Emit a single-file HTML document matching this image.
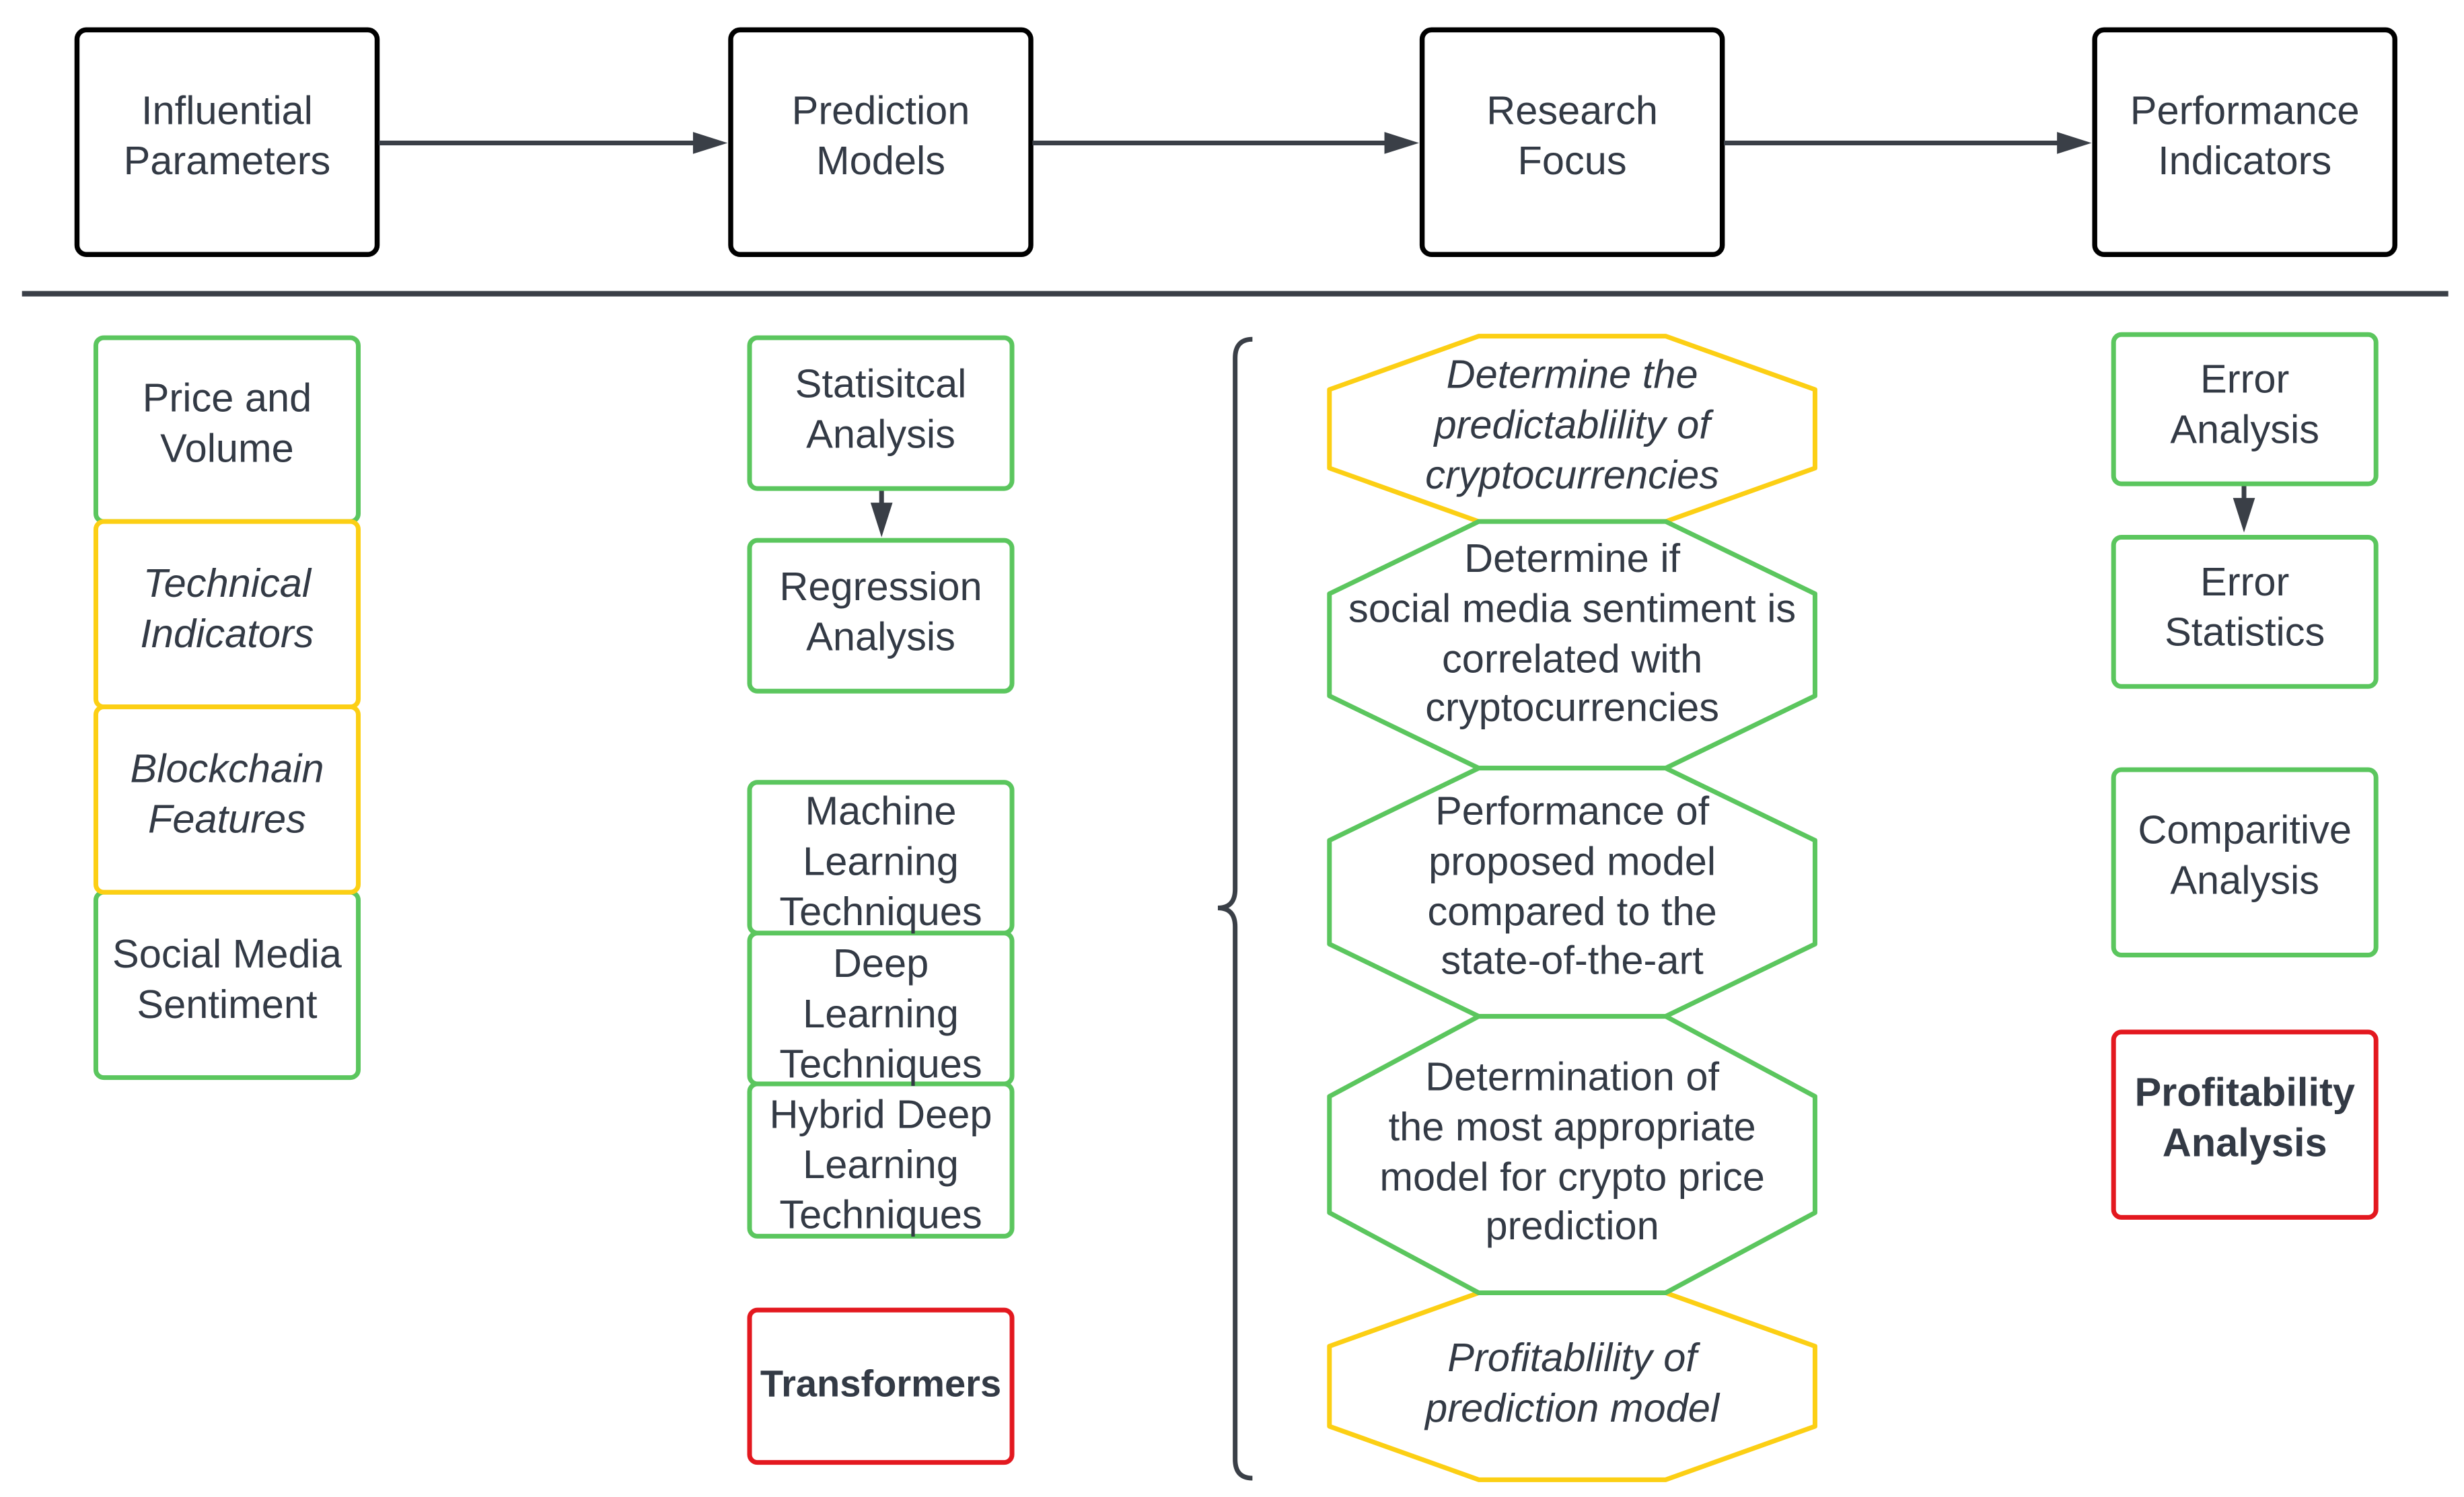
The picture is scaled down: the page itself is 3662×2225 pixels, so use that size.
<!DOCTYPE html>
<html><head><meta charset="utf-8">
<style>
html,body{margin:0;padding:0;background:#fff;}
svg{display:block;}
text{font-family:"Liberation Sans",Arial,sans-serif;font-size:25.5px;fill:#333a45;text-anchor:middle;}
.i{font-style:italic;}
.b{font-weight:bold;}
</style></head><body>
<svg width="3662" height="2225" viewBox="0 0 1568 953" preserveAspectRatio="none" xmlns="http://www.w3.org/2000/svg">
<rect width="1568" height="953" fill="#fff"/>
<g fill="#fff" stroke="#000" stroke-width="3.2">
<rect x="49" y="19" width="191" height="143" rx="6"/>
<rect x="465" y="19" width="191" height="143" rx="6"/>
<rect x="905" y="19" width="191" height="143" rx="6"/>
<rect x="1333" y="19" width="191" height="143" rx="6"/>
</g>
<g stroke="#3a3f47" stroke-width="3" fill="none">
<line x1="241" y1="91" x2="444" y2="91"/>
<line x1="657" y1="91" x2="884" y2="91"/>
<line x1="1097" y1="91" x2="1312" y2="91"/>
<line x1="14" y1="187" x2="1558" y2="187" stroke-width="3.5"/>
<line x1="561" y1="312" x2="561" y2="325"/>
<line x1="1428" y1="309" x2="1428" y2="322"/>
</g>
<g fill="#3a3f47">
<path d="M441,84 L463,91 L441,98 z"/>
<path d="M881,84 L903,91 L881,98 z"/>
<path d="M1309,84 L1331,91 L1309,98 z"/>
<path d="M554,320 L568,320 L561,342 z"/>
<path d="M1421,317 L1435,317 L1428,339 z"/>
</g>
<text x="144.5" y="79">Influential</text><text x="144.5" y="111">Parameters</text>
<text x="560.5" y="79">Prediction</text><text x="560.5" y="111">Models</text>
<text x="1000.5" y="79">Research</text><text x="1000.5" y="111">Focus</text>
<text x="1428.5" y="79">Performance</text><text x="1428.5" y="111">Indicators</text>

<g fill="#fff" stroke-width="3">
<rect x="61" y="215" width="167" height="117" rx="5" stroke="#5bc65e"/>
<rect x="61" y="568" width="167" height="118" rx="5" stroke="#5bc65e"/>
<rect x="61" y="332" width="167" height="118" rx="5" stroke="#fccf14"/>
<rect x="61" y="450" width="167" height="118" rx="5" stroke="#fccf14"/>
</g>
<text x="144.5" y="262">Price and</text><text x="144.5" y="294">Volume</text>
<text class="i" x="144.5" y="380">Technical</text><text class="i" x="144.5" y="412">Indicators</text>
<text class="i" x="144.5" y="498">Blockchain</text><text class="i" x="144.5" y="530">Features</text>
<text x="144.5" y="616">Social Media</text><text x="144.5" y="648">Sentiment</text>

<g fill="#fff" stroke-width="3">
<rect x="477" y="215" width="167" height="96" rx="5" stroke="#5bc65e"/>
<rect x="477" y="344" width="167" height="96" rx="5" stroke="#5bc65e"/>
<rect x="477" y="498" width="167" height="96" rx="5" stroke="#5bc65e"/>
<rect x="477" y="594" width="167" height="96" rx="5" stroke="#5bc65e"/>
<rect x="477" y="690" width="167" height="97" rx="5" stroke="#5bc65e"/>
<rect x="477" y="834" width="167" height="97" rx="5" stroke="#e3181f"/>
</g>
<text x="560.5" y="253">Statisitcal</text><text x="560.5" y="285">Analysis</text>
<text x="560.5" y="382">Regression</text><text x="560.5" y="414">Analysis</text>
<text x="560.5" y="525">Machine</text><text x="560.5" y="557">Learning</text><text x="560.5" y="589">Techniques</text>
<text x="560.5" y="622">Deep</text><text x="560.5" y="654">Learning</text><text x="560.5" y="686">Techniques</text>
<text x="560.5" y="718">Hybrid Deep</text><text x="560.5" y="750">Learning</text><text x="560.5" y="782">Techniques</text>
<text class="b" x="560.5" y="889" style="font-size:24px">Transformers</text>

<path d="M797,216 Q786,216 786,228 L786,566 Q786,578 775,578 Q786,578 786,590 L786,929 Q786,941 797,941" fill="none" stroke="#3a3f47" stroke-width="3"/>

<g fill="#fff" stroke-width="3" stroke-linejoin="round">
<polygon stroke="#fccf14" points="941,214 1060,214 1155,248 1155,298 1060,332 941,332 846,298 846,248"/>
<polygon stroke="#fccf14" points="941,823 1060,823 1155,857 1155,908 1060,942 941,942 846,908 846,857"/>
<polygon stroke="#5bc65e" points="941,332 1060,332 1155,378 1155,443 1060,489 941,489 846,443 846,378"/>
<polygon stroke="#5bc65e" points="941,489 1060,489 1155,535 1155,601 1060,647 941,647 846,601 846,535"/>
<polygon stroke="#5bc65e" points="941,647 1060,647 1155,698 1155,772 1060,823 941,823 846,772 846,698"/>
</g>
<text class="i" x="1000.5" y="247">Determine the</text><text class="i" x="1000.5" y="279">predictablility of</text><text class="i" x="1000.5" y="311">cryptocurrencies</text>
<text x="1000.5" y="364">Determine if</text><text x="1000.5" y="396">social media sentiment is</text><text x="1000.5" y="428">correlated with</text><text x="1000.5" y="459">cryptocurrencies</text>
<text x="1000.5" y="525">Performance of</text><text x="1000.5" y="557">proposed model</text><text x="1000.5" y="589">compared to the</text><text x="1000.5" y="620">state-of-the-art</text>
<text x="1000.5" y="694">Determination of</text><text x="1000.5" y="726">the most appropriate</text><text x="1000.5" y="758">model for crypto price</text><text x="1000.5" y="789">prediction</text>
<text class="i" x="1000.5" y="873">Profitablility of</text><text class="i" x="1000.5" y="905">prediction model</text>

<g fill="#fff" stroke-width="3">
<rect x="1345" y="213" width="167" height="95" rx="5" stroke="#5bc65e"/>
<rect x="1345" y="342" width="167" height="95" rx="5" stroke="#5bc65e"/>
<rect x="1345" y="490" width="167" height="118" rx="5" stroke="#5bc65e"/>
<rect x="1345" y="657" width="167" height="118" rx="5" stroke="#e3181f"/>
</g>
<text x="1428.5" y="250">Error</text><text x="1428.5" y="282">Analysis</text>
<text x="1428.5" y="379">Error</text><text x="1428.5" y="411">Statistics</text>
<text x="1428.5" y="537">Comparitive</text><text x="1428.5" y="569">Analysis</text>
<text class="b" x="1428.5" y="704">Profitability</text><text class="b" x="1428.5" y="736">Analysis</text>
</svg>
</body></html>
